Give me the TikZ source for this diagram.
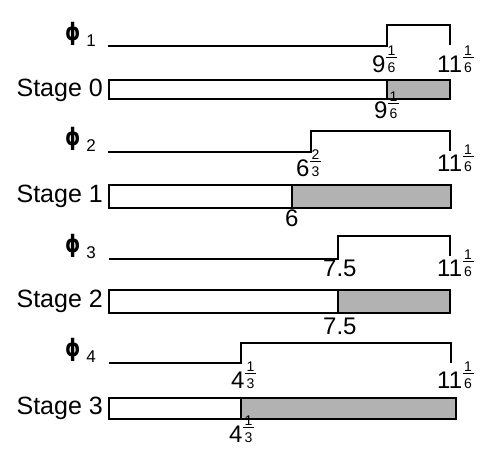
\documentclass[tikz,border=0pt]{standalone}
\usepackage{fontspec}
\setmainfont{Liberation Sans}
\newfontfamily\phifont{DejaVu Sans}
\usetikzlibrary{positioning}

% mixed number: whole part, then a small stacked fraction
\newcommand{\mixed}[3]{#1\hspace{0.5pt}{\fontsize{14}{14}\selectfont\shortstack[c]{#2\\[-1.5pt]\rule{11pt}{1.3pt}\\[1pt]#3}}}
% phase label phi_k
\newcommand{\phase}[1]{\raisebox{6pt}{\phifont\bfseries\fontsize{24}{26}\selectfont\scalebox{0.8}[1.0]{ϕ}}\hspace{6pt}{\fontsize{17}{17}\selectfont #1}}

\begin{document}
\begin{tikzpicture}[x=1pt, y=-1pt,
  sig/.style={line width=2.6pt},
  bar/.style={draw, line width=2.3pt, fill=white},
  busy/.style={draw, line width=2.3pt, fill=gray!60},
  stagelbl/.style={anchor=east, font=\fontsize{25}{27}\selectfont, inner sep=0pt},
  phaselbl/.style={anchor=base east, inner sep=0pt},
  tlbl/.style={anchor=base west, font=\fontsize{24}{26}\selectfont, inner sep=0pt}]
\useasboundingbox (0,0) rectangle (483,456);

% phase 1 / stage 0
\node[phaselbl] (ph1) at (96,46) {\phase{1}};
\draw[sig] (108,46) -- (387,46) -- (387,25) -- (450,25) -- (450,45);
\node[tlbl] (ph1a) at (372,72) {\mixed{9}{1}{6}};
\node[tlbl] (ph1b) at (437,72) {\mixed{11}{1}{6}};
\draw[bar] (109,80) rectangle (387,99);
\draw[busy] (387,80) rectangle (450,99);
\node[stagelbl] (st0) at (103,90) {Stage 0};
\node[tlbl] (st0a) at (374,118) {\mixed{9}{1}{6}};

% phase 2 / stage 1
\node[phaselbl] (ph2) at (96,151) {\phase{2}};
\draw[sig] (108,152) -- (311,152) -- (311,131) -- (450,131) -- (450,151);
\node[tlbl] (ph2a) at (296,176) {\mixed{6}{2}{3}};
\node[tlbl] (ph2b) at (437,171) {\mixed{11}{1}{6}};
\draw[bar] (109,185) rectangle (292,208);
\draw[busy] (292,185) rectangle (451,208);
\node[stagelbl] (st1) at (103,196) {Stage 1};
\node[tlbl] (st1a) at (285,226) {6};

% phase 3 / stage 2
\node[phaselbl] (ph3) at (96,258) {\phase{3}};
\draw[sig] (109,259) -- (338,259) -- (338,236) -- (450,236) -- (450,256);
\node[tlbl] (ph3a) at (323,276) {7.5};
\node[tlbl] (ph3b) at (437,276) {\mixed{11}{1}{6}};
\draw[bar] (109,290) rectangle (338,313);
\draw[busy] (338,290) rectangle (450,313);
\node[stagelbl] (st2) at (103,301) {Stage 2};
\node[tlbl] (st2a) at (323,334) {7.5};

% phase 4 / stage 3
\node[phaselbl] (ph4) at (96,362) {\phase{4}};
\draw[sig] (109,363) -- (241,363) -- (241,343) -- (451,343) -- (451,363);
\node[tlbl] (ph4a) at (231,388) {\mixed{4}{1}{3}};
\node[tlbl] (ph4b) at (437,388) {\mixed{11}{1}{6}};
\draw[bar] (109,398) rectangle (241,419);
\draw[busy] (241,398) rectangle (456,419);
\node[stagelbl] (st3) at (103,408) {Stage 3};
\node[tlbl] (st3a) at (229,442) {\mixed{4}{1}{3}};
\end{tikzpicture}
\end{document}
